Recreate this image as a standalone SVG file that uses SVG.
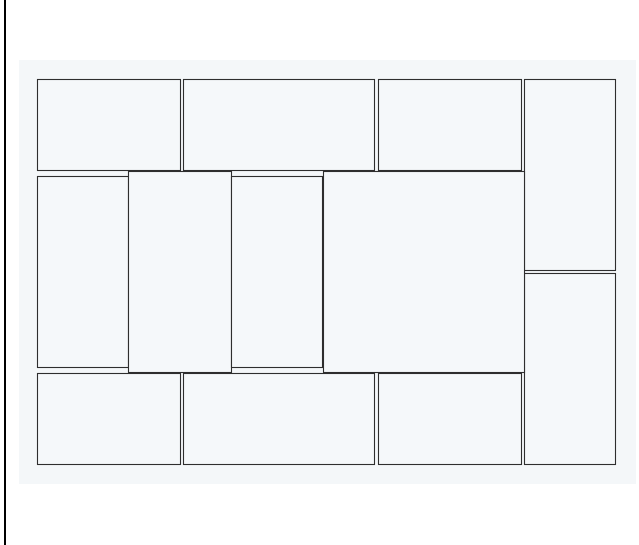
<svg xmlns="http://www.w3.org/2000/svg" width="639" height="545" viewBox="0 0 639 545">
<style>
.r{fill:#f5f8fa;stroke:#2e2e2e;stroke-width:1.1}
</style>
<rect x="0" y="0" width="639" height="545" fill="#ffffff"/>
<line x1="5" y1="0" x2="5" y2="545" stroke="#000" stroke-width="2"/>
<rect x="19" y="60" width="617" height="424" fill="#f4f7f9"/>
<g id="top-1"><rect class="r" x="37.5" y="79.5" width="143" height="91"/></g>
<g id="top-2"><rect class="r" x="183.5" y="79.5" width="191" height="91"/></g>
<g id="top-3"><rect class="r" x="378.5" y="79.5" width="143" height="91"/></g>
<g id="right-1"><rect class="r" x="524.5" y="79.5" width="91" height="191"/></g>
<g id="right-2"><rect class="r" x="524.5" y="273.5" width="91" height="191"/></g>
<g id="mid-1"><rect class="r" x="37.5" y="176.5" width="91" height="191"/></g>
<g id="mid-2"><rect class="r" x="128.5" y="171.5" width="103" height="201"/></g>
<g id="mid-3"><rect class="r" x="231.5" y="176.5" width="91" height="191"/></g>
<g id="mid-4"><rect class="r" x="323.5" y="171.5" width="201" height="201"/></g>
<g id="bottom-1"><rect class="r" x="37.5" y="373.5" width="143" height="91"/></g>
<g id="bottom-2"><rect class="r" x="183.5" y="373.5" width="191" height="91"/></g>
<g id="bottom-3"><rect class="r" x="378.5" y="373.5" width="143" height="91"/></g>
<g id="connectors"></g>
</svg>
